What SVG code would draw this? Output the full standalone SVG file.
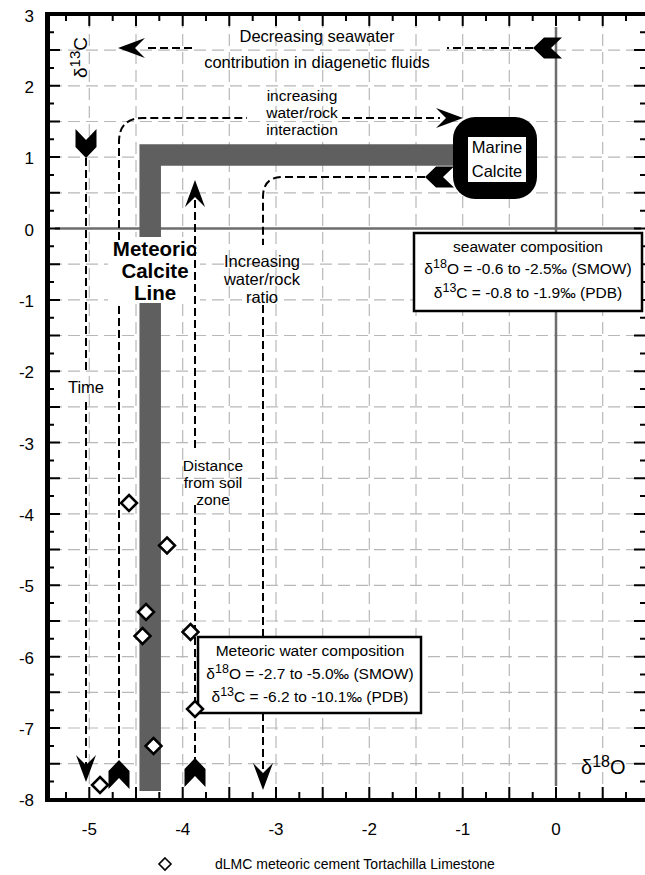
<svg xmlns="http://www.w3.org/2000/svg" xmlns:xlink="http://www.w3.org/1999/xlink" width="645" height="875" viewBox="0 0 645 875">
<style>
text{font-family:"Liberation Sans",Arial,sans-serif;fill:#000}
.grid{fill:none;stroke:#b8b8b8;stroke-width:1.2;stroke-dasharray:12,6}
.tick{fill:none;stroke:#000;stroke-width:2}
.frame{fill:none;stroke:#000}
.zero{fill:none;stroke:#6e6e6e;stroke-width:2.5}
.dash{fill:none;stroke:#000;stroke-width:2;stroke-dasharray:8,4}
.lbl{font-size:16.5px;text-anchor:middle}
.stk{font-size:15.5px;text-anchor:middle}
.num{font-size:17px}
.box{fill:#fff;stroke:#000;stroke-width:2.5}
.comp{font-size:15.5px;text-anchor:middle}
.dm{fill:#fff;stroke:#000;stroke-width:2.5}
</style>
<defs>
<path id="ah" d="M0,0 L-10,-27 L0,-17 L10,-27 Z" fill="#000"/>
<path id="chev" d="M0,0 L10.5,11 L10.5,29 L0,18 L-10.5,29 L-10.5,11 Z" fill="#000"/>
<path id="dmd" class="dm" d="M0,-8 L8,0 L0,8 L-8,0 Z"/>
</defs>

<g id="grid">
<path class="grid" d="M89.3,16V798M136,16V798M182.7,16V798M229.3,16V798M276,16V798M322.7,16V798M369.3,16V798M416,16V798M462.7,16V798M509.3,16V798M602.7,16V798
M50,50.1H643M50,85.8H643M50,121.5H643M50,157.1H643M50,192.8H643M50,264.2H643M50,299.9H643M50,335.5H643M50,371.2H643M50,406.9H643M50,442.6H643M50,478.3H643M50,513.9H643M50,549.6H643M50,585.3H643M50,621H643M50,656.7H643M50,692.3H643M50,728H643M50,763.7H643"/>
<path class="zero" d="M55,228.5H641M556,27V786"/>
</g>

<g id="axes">
<path class="frame" stroke-width="4" d="M45,14H645M45,800H645"/>
<path class="frame" stroke-width="5" d="M47.5,12V802"/>
<path class="tick" d="M50,32.3H54M50,50.1H60M50,67.9H54M50,85.8H60M50,103.6H54M50,121.5H60M50,139.3H54M50,157.1H60M50,175H54M50,192.8H60M50,210.7H54M50,228.5H60M50,246.3H54M50,264.2H60M50,282H54M50,299.9H60M50,317.7H54M50,335.5H60M50,353.4H54M50,371.2H60M50,389H54M50,406.9H60M50,424.7H54M50,442.6H60M50,460.4H54M50,478.3H60M50,496.1H54M50,513.9H60M50,531.8H54M50,549.6H60M50,567.5H54M50,585.3H60M50,603.1H54M50,621H60M50,638.8H54M50,656.7H60M50,674.5H54M50,692.3H60M50,710.2H54M50,728H60M50,745.9H54M50,763.7H60M50,781.5H54
M645,32.3H640M645,50.1H634M645,67.9H640M645,85.8H634M645,103.6H640M645,121.5H634M645,139.3H640M645,157.1H634M645,175H640M645,192.8H634M645,210.7H640M645,228.5H634M645,246.3H640M645,264.2H634M645,282H640M645,299.9H634M645,317.7H640M645,335.5H634M645,353.4H640M645,371.2H634M645,389H640M645,406.9H634M645,424.7H640M645,442.6H634M645,460.4H640M645,478.3H634M645,496.1H640M645,513.9H634M645,531.8H640M645,549.6H634M645,567.5H640M645,585.3H634M645,603.1H640M645,621H634M645,638.8H640M645,656.7H634M645,674.5H640M645,692.3H634M645,710.2H640M645,728H634M645,745.9H640M645,763.7H634M645,781.5H640
M66,798V792M89.3,798V787M112.7,798V792M136,798V787M159.3,798V792M182.7,798V787M206,798V792M229.3,798V787M252.7,798V792M276,798V787M299.3,798V792M322.7,798V787M346,798V792M369.3,798V787M392.7,798V792M416,798V787M439.3,798V792M462.7,798V787M486,798V792M509.3,798V787M532.7,798V792M556,798V787M579.3,798V792M602.7,798V787M626,798V792
M66,16V21M89.3,16V26M112.7,16V21M136,16V26M159.3,16V21M182.7,16V26M206,16V21M229.3,16V26M252.7,16V21M276,16V26M299.3,16V21M322.7,16V26M346,16V21M369.3,16V26M392.7,16V21M416,16V26M439.3,16V21M462.7,16V26M486,16V21M509.3,16V26M532.7,16V21M556,16V26M579.3,16V21M602.7,16V26M626,16V21"/>
<g class="num" text-anchor="end">
<text x="34" y="21.5">3</text>
<text x="34" y="92.8">2</text>
<text x="34" y="164.1">1</text>
<text x="34" y="235.5">0</text>
<text x="34" y="306.9">-1</text>
<text x="34" y="378.2">-2</text>
<text x="34" y="449.6">-3</text>
<text x="34" y="520.9">-4</text>
<text x="34" y="592.3">-5</text>
<text x="34" y="663.7">-6</text>
<text x="34" y="735">-7</text>
<text x="34" y="806">-8</text>
</g>
<g class="num" text-anchor="middle">
<text x="89.3" y="835">-5</text>
<text x="182.7" y="835">-4</text>
<text x="276" y="835">-3</text>
<text x="369.3" y="835">-2</text>
<text x="462.7" y="835">-1</text>
<text x="556" y="835">0</text>
</g>
<text transform="translate(87,78) rotate(-90)" font-size="19">δ<tspan font-size="15" dy="-7">13</tspan><tspan dy="7">C</tspan></text>
<text x="581" y="774" font-size="20">δ<tspan font-size="16" dy="-7">18</tspan><tspan dy="7">O</tspan></text>
</g>

<g id="meteoric-calcite-line">
<path d="M150.2,791V155H462" fill="none" stroke="#5f5f5f" stroke-width="21.5" stroke-linejoin="miter"/>
<rect x="108" y="237" width="92" height="66" fill="#fff"/>
</g>

<g id="connectors">
<path class="dash" d="M533,48H447M192,48H145"/>
<use xlink:href="#chev" transform="translate(533,48) rotate(-90)"/>
<use xlink:href="#ah" transform="translate(118,48) rotate(90)"/>
<path class="dash" d="M119,770V303M119,240V142Q119,118 143,118H247M342,118H440"/>
<use xlink:href="#chev" transform="translate(119,760)"/>
<use xlink:href="#ah" transform="translate(463,118) rotate(-90)"/>
<path class="dash" d="M425,177H283Q263,177 263,197V245M263,305V772"/>
<use xlink:href="#chev" transform="translate(425,177) rotate(-90)"/>
<use xlink:href="#ah" transform="translate(263,790)"/>
<path class="dash" d="M195,200V452M195,505V770"/>
<use xlink:href="#ah" transform="translate(195,180) rotate(180)"/>
<use xlink:href="#chev" transform="translate(195,758)"/>
<path class="dash" d="M86,158V372M86,402V765"/>
<use xlink:href="#chev" transform="translate(86,158) rotate(180)"/>
<use xlink:href="#ah" transform="translate(86,782)"/>
</g>

<g id="labels">
<text class="lbl" x="317" y="42">Decreasing seawater</text>
<text class="lbl" x="317" y="68">contribution in diagenetic fluids</text>
<text class="stk" x="302" y="101">increasing</text>
<text class="stk" x="302" y="118">water/rock</text>
<text class="stk" x="302" y="135">interaction</text>
<text class="lbl" x="262" y="267">Increasing</text>
<text class="lbl" x="262" y="285">water/rock</text>
<text class="lbl" x="262" y="303">ratio</text>
<text class="lbl" x="86" y="393">Time</text>
<text class="stk" x="213" y="471">Distance</text>
<text class="stk" x="213" y="488">from soil</text>
<text class="stk" x="213" y="505">zone</text>
<g font-size="20.5" font-weight="bold" text-anchor="middle">
<text x="155" y="256">Meteoric</text>
<text x="155" y="278">Calcite</text>
<text x="155" y="300">Line</text>
</g>
</g>

<g id="marine-calcite">
<rect x="453" y="117" width="84" height="82" rx="22" fill="#000"/>
<rect x="468" y="137" width="58" height="45" fill="#fff"/>
<text class="lbl" x="497" y="153">Marine</text>
<text class="lbl" x="497" y="177">Calcite</text>
</g>

<g id="seawater-composition">
<rect class="box" x="414" y="233" width="228" height="78"/>
<text class="comp" x="528" y="252">seawater composition</text>
<text class="comp" x="528" y="274">δ<tspan font-size="12.5" dy="-6">18</tspan><tspan dy="6">O = -0.6 to -2.5‰ (SMOW)</tspan></text>
<text class="comp" x="528" y="298">δ<tspan font-size="12.5" dy="-6">13</tspan><tspan dy="6">C = -0.8 to -1.9‰ (PDB)</tspan></text>
</g>

<g id="meteoric-water-composition">
<rect class="box" x="198" y="637" width="223" height="76"/>
<text class="comp" x="310" y="656">Meteoric water composition</text>
<text class="comp" x="310" y="679">δ<tspan font-size="12.5" dy="-6">18</tspan><tspan dy="6">O = -2.7 to -5.0‰ (SMOW)</tspan></text>
<text class="comp" x="310" y="702">δ<tspan font-size="12.5" dy="-6">13</tspan><tspan dy="6">C = -6.2 to -10.1‰ (PDB)</tspan></text>
</g>

<g id="data-points">
<use xlink:href="#dmd" x="129" y="503"/>
<use xlink:href="#dmd" x="167" y="545.5"/>
<use xlink:href="#dmd" x="146" y="612"/>
<use xlink:href="#dmd" x="142.5" y="636"/>
<use xlink:href="#dmd" x="190.5" y="632"/>
<use xlink:href="#dmd" x="195" y="709"/>
<use xlink:href="#dmd" x="153.5" y="746"/>
<use xlink:href="#dmd" x="100" y="785"/>
</g>

<g id="legend">
<path d="M165,858L171,864L165,870L159,864Z" fill="#fff" stroke="#000" stroke-width="1.6"/>
<text x="215" y="869" font-size="14">dLMC meteoric cement Tortachilla Limestone</text>
</g>
</svg>
